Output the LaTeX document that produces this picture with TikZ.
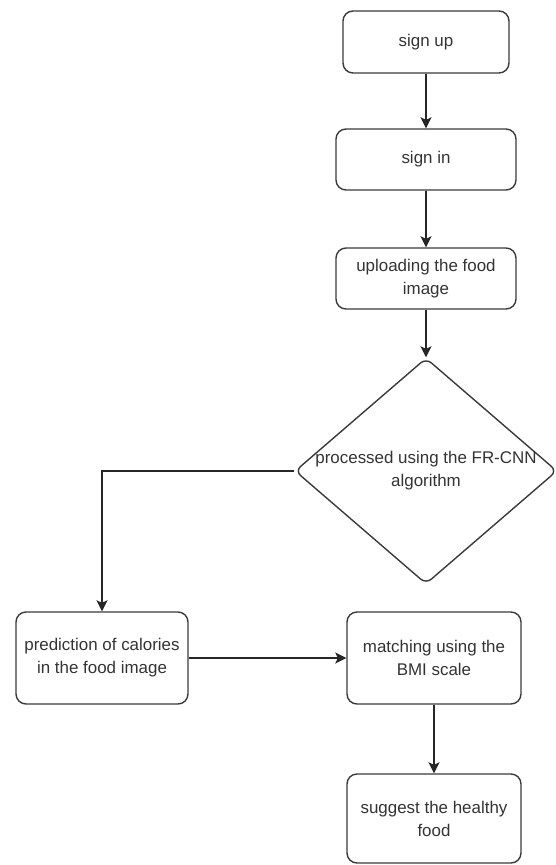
\documentclass[tikz,border=0pt]{standalone}
\usepackage{fontspec}
\setmainfont{Liberation Sans}
\usetikzlibrary{arrows.meta,shapes.geometric}
\definecolor{boxline}{HTML}{3A3A3A}
\definecolor{txt}{HTML}{333333}
\begin{document}
\begin{tikzpicture}[x=1bp,y=-1bp,
  every node/.style={font=\fontsize{17}{23}\selectfont, text=txt, align=center},
  procbox/.style={draw=boxline, line width=1.4bp, rounded corners=10bp, inner sep=0pt},
  decbox/.style={draw=boxline, line width=1.4bp, shape=diamond, rounded corners=7bp, inner sep=0pt},
  flow/.style={draw=black!85, line width=1.4bp, -{Stealth[length=11bp,width=11bp,inset=2.5bp]}}
]
\useasboundingbox (0,0) rectangle (556,865);
\node[procbox, minimum width=166bp, minimum height=62bp] (signup) at (426,42) {sign up};
\node[procbox, minimum width=180bp, minimum height=61bp] (signin) at (426,159.5) {sign in};
\node[procbox, minimum width=180bp, minimum height=61bp] (upload) at (426,278.5) {uploading the food\\image};
\node[decbox, minimum width=262bp, minimum height=226bp,
  label={[align=center, font=\fontsize{17}{23}\selectfont, text=txt]center:processed using the FR-CNN\\algorithm}] (proc) at (426,471) {};
\node[procbox, minimum width=172bp, minimum height=92bp] (pred) at (102,658) {prediction of calories\\in the food image};
\node[procbox, minimum width=174bp, minimum height=92bp] (match) at (434,658) {matching using the\\BMI scale};
\node[procbox, minimum width=174bp, minimum height=89bp] (suggest) at (434,818.5) {suggest the healthy\\food};
\draw[flow] (signup) -- (signin);
\draw[flow] (signin) -- (upload);
\draw[flow] (upload) -- (proc.north);
\draw[flow] (proc.west) -| (pred.north);
\draw[flow] (pred.east) -- (match.west);
\draw[flow] (match) -- (suggest);
\end{tikzpicture}
\end{document}
